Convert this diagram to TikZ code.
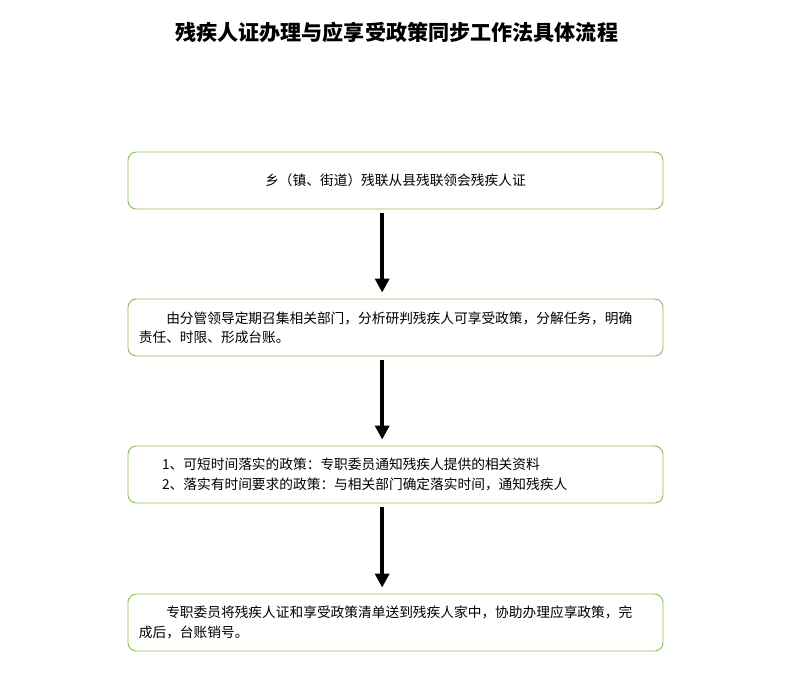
\documentclass[tikz,border=0pt]{standalone}
\usepackage{fontspec}
\setmainfont{Noto Sans CJK SC}
\usetikzlibrary{arrows.meta,positioning}
\definecolor{boxgreen}{RGB}{140,190,90}

\begin{document}
\begin{tikzpicture}[
    stepbox/.style={rectangle, draw=boxgreen, line width=0.8pt, rounded corners=0.25cm,
        minimum width=16.05cm, minimum height=1.71cm, font=\fontsize{11.7}{16.5}\selectfont},
    arrow/.style={-{Triangle[width=0.42cm,length=0.42cm]}, line width=3.2pt,
        shorten <=0.1cm, shorten >=0.18cm}
]
    \useasboundingbox (0,0) rectangle (23.79,-20.22);

    % Title
    \node[font=\fontsize{18}{20}\selectfont\bfseries] (title) at (11.9,-0.96)
        {残疾人证办理与应享受政策同步工作法具体流程};

    % Steps
    \node[stepbox] (issue) at (11.865,-5.415) {乡（镇、街道）残联从县残联领会残疾人证};
    \node[stepbox, align=left, text width=15.4cm] (meet) at (11.865,-9.825)
        {\hspace*{2em}由分管领导定期召集相关部门，分析研判残疾人可享受政策，分解任务，明确\\责任、时限、形成台账。};
    \node[stepbox, align=left, text width=15.4cm] (notify) at (11.865,-14.235)
        {\hspace*{1.7em}1、可短时间落实的政策：专职委员通知残疾人提供的相关资料\\\hspace*{1.7em}2、落实有时间要求的政策：与相关部门确定落实时间，通知残疾人};
    \node[stepbox, align=left, text width=15.4cm] (deliver) at (11.865,-18.675)
        {\hspace*{2em}专职委员将残疾人证和享受政策清单送到残疾人家中，协助办理应享政策，完\\成后，台账销号。};

    % Arrows
    \draw[arrow] ([xshift=-0.4cm]issue.south) -- ([xshift=-0.4cm]meet.north);
    \draw[arrow] ([xshift=-0.4cm]meet.south) -- ([xshift=-0.4cm]notify.north);
    \draw[arrow] ([xshift=-0.4cm]notify.south) -- ([xshift=-0.4cm]deliver.north);
\end{tikzpicture}
\end{document}
